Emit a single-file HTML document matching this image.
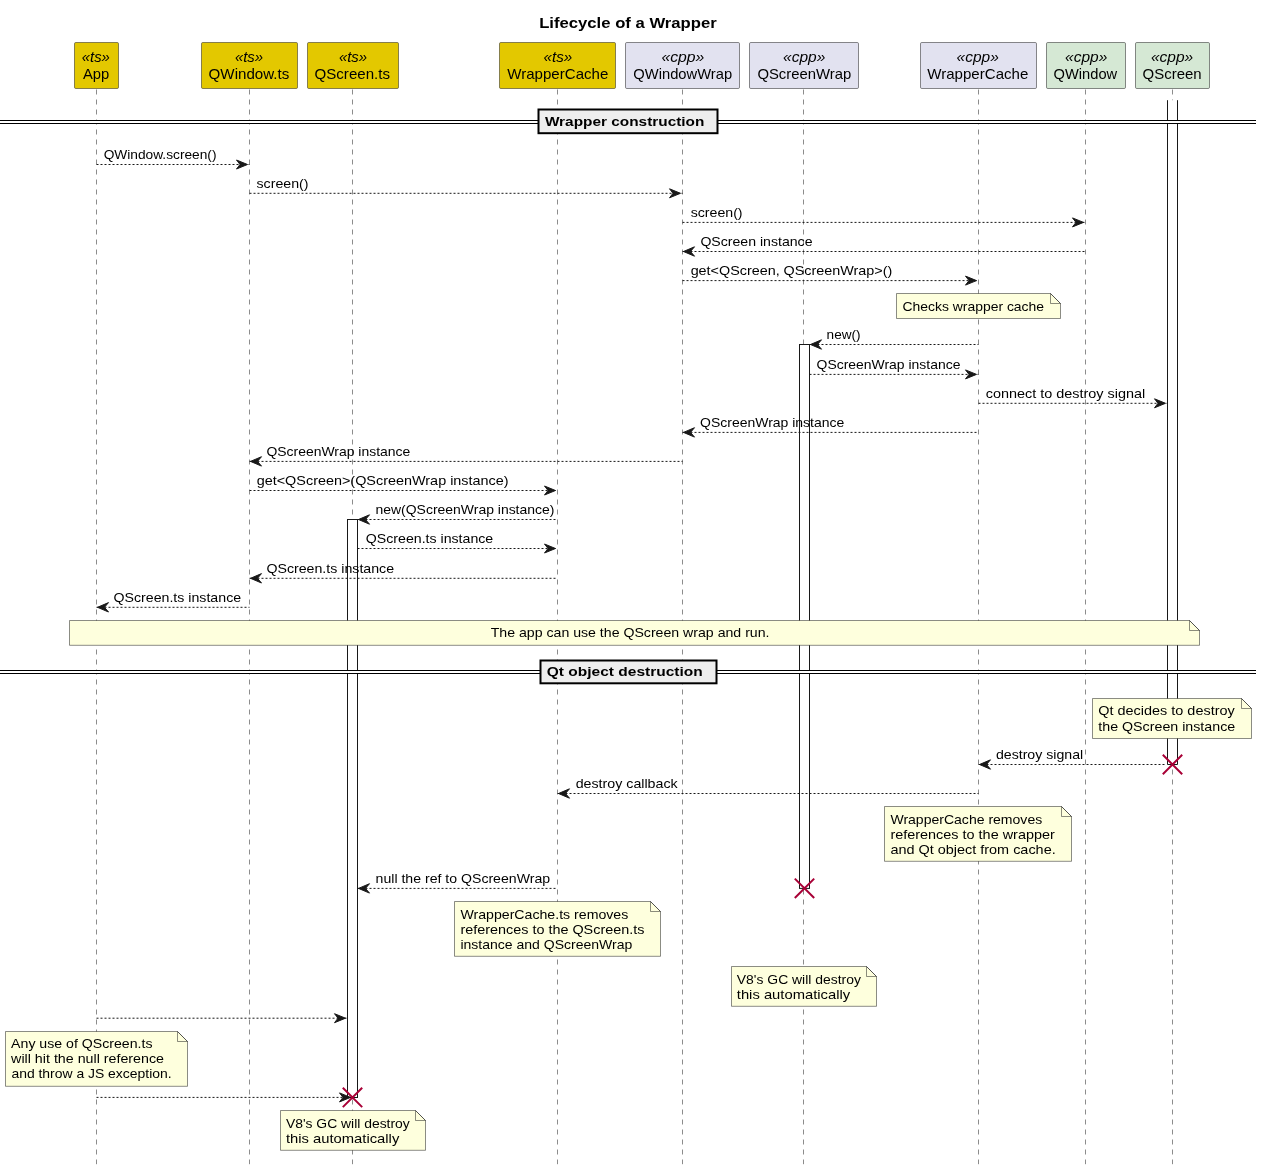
<!DOCTYPE html>
<html><head><meta charset="utf-8"><style>
html,body{margin:0;padding:0;background:#FFFFFF;width:1262px;height:1171px;overflow:hidden}
svg{display:block;will-change:transform}
text{font-family:"Liberation Sans", sans-serif}
</style></head><body>
<svg width="1262" height="1171" viewBox="0 0 1262 1171">
<text x="539.20" y="28.00" font-size="14.8" font-weight="bold" font-style="normal" fill="#000000" textLength="177.50" lengthAdjust="spacingAndGlyphs">Lifecycle of a Wrapper</text>
<line x1="96.5" y1="89.5" x2="96.5" y2="1164.2" stroke="#181818" stroke-width="0.5" stroke-dasharray="5,5"/>
<line x1="249.5" y1="89.5" x2="249.5" y2="1164.2" stroke="#181818" stroke-width="0.5" stroke-dasharray="5,5"/>
<line x1="352.5" y1="89.5" x2="352.5" y2="1164.2" stroke="#181818" stroke-width="0.5" stroke-dasharray="5,5"/>
<line x1="557.5" y1="89.5" x2="557.5" y2="1164.2" stroke="#181818" stroke-width="0.5" stroke-dasharray="5,5"/>
<line x1="682.5" y1="89.5" x2="682.5" y2="1164.2" stroke="#181818" stroke-width="0.5" stroke-dasharray="5,5"/>
<line x1="803.5" y1="89.5" x2="803.5" y2="1164.2" stroke="#181818" stroke-width="0.5" stroke-dasharray="5,5"/>
<line x1="978.5" y1="89.5" x2="978.5" y2="1164.2" stroke="#181818" stroke-width="0.5" stroke-dasharray="5,5"/>
<line x1="1085.5" y1="89.5" x2="1085.5" y2="1164.2" stroke="#181818" stroke-width="0.5" stroke-dasharray="5,5"/>
<line x1="1172.5" y1="89.5" x2="1172.5" y2="1164.2" stroke="#181818" stroke-width="0.5" stroke-dasharray="5,5"/>
<rect x="74.5" y="42.5" width="44.0" height="46.0" rx="1.3" ry="1.3" fill="#E3C800" stroke="#181818" stroke-width="0.5"/>
<text x="81.80" y="61.50" font-size="14.6" font-weight="normal" font-style="italic" fill="#000000" textLength="28.10" lengthAdjust="spacingAndGlyphs">«ts»</text>
<text x="83.00" y="78.60" font-size="14.6" font-weight="normal" font-style="normal" fill="#000000" textLength="26.30" lengthAdjust="spacingAndGlyphs">App</text>
<rect x="201.5" y="42.5" width="96.0" height="46.0" rx="1.3" ry="1.3" fill="#E3C800" stroke="#181818" stroke-width="0.5"/>
<text x="234.90" y="61.50" font-size="14.6" font-weight="normal" font-style="italic" fill="#000000" textLength="28.30" lengthAdjust="spacingAndGlyphs">«ts»</text>
<text x="208.60" y="78.60" font-size="14.6" font-weight="normal" font-style="normal" fill="#000000" textLength="80.70" lengthAdjust="spacingAndGlyphs">QWindow.ts</text>
<rect x="307.5" y="42.5" width="91.0" height="46.0" rx="1.3" ry="1.3" fill="#E3C800" stroke="#181818" stroke-width="0.5"/>
<text x="338.90" y="61.50" font-size="14.6" font-weight="normal" font-style="italic" fill="#000000" textLength="28.30" lengthAdjust="spacingAndGlyphs">«ts»</text>
<text x="314.50" y="78.60" font-size="14.6" font-weight="normal" font-style="normal" fill="#000000" textLength="75.50" lengthAdjust="spacingAndGlyphs">QScreen.ts</text>
<rect x="499.5" y="42.5" width="116.0" height="46.0" rx="1.3" ry="1.3" fill="#E3C800" stroke="#181818" stroke-width="0.5"/>
<text x="543.50" y="61.50" font-size="14.6" font-weight="normal" font-style="italic" fill="#000000" textLength="28.80" lengthAdjust="spacingAndGlyphs">«ts»</text>
<text x="507.30" y="78.60" font-size="14.6" font-weight="normal" font-style="normal" fill="#000000" textLength="101.00" lengthAdjust="spacingAndGlyphs">WrapperCache</text>
<rect x="625.5" y="42.5" width="114.0" height="46.0" rx="1.3" ry="1.3" fill="#E2E2F0" stroke="#181818" stroke-width="0.5"/>
<text x="661.40" y="61.50" font-size="14.6" font-weight="normal" font-style="italic" fill="#000000" textLength="42.99" lengthAdjust="spacingAndGlyphs">«cpp»</text>
<text x="633.30" y="78.60" font-size="14.6" font-weight="normal" font-style="normal" fill="#000000" textLength="98.79" lengthAdjust="spacingAndGlyphs">QWindowWrap</text>
<rect x="749.5" y="42.5" width="109.0" height="46.0" rx="1.3" ry="1.3" fill="#E2E2F0" stroke="#181818" stroke-width="0.5"/>
<text x="783.00" y="61.50" font-size="14.6" font-weight="normal" font-style="italic" fill="#000000" textLength="42.29" lengthAdjust="spacingAndGlyphs">«cpp»</text>
<text x="757.40" y="78.60" font-size="14.6" font-weight="normal" font-style="normal" fill="#000000" textLength="93.91" lengthAdjust="spacingAndGlyphs">QScreenWrap</text>
<rect x="920.5" y="42.5" width="116.0" height="46.0" rx="1.3" ry="1.3" fill="#E2E2F0" stroke="#181818" stroke-width="0.5"/>
<text x="956.60" y="61.50" font-size="14.6" font-weight="normal" font-style="italic" fill="#000000" textLength="42.29" lengthAdjust="spacingAndGlyphs">«cpp»</text>
<text x="927.30" y="78.60" font-size="14.6" font-weight="normal" font-style="normal" fill="#000000" textLength="101.00" lengthAdjust="spacingAndGlyphs">WrapperCache</text>
<rect x="1046.5" y="42.5" width="79.0" height="46.0" rx="1.3" ry="1.3" fill="#D5E8D4" stroke="#181818" stroke-width="0.5"/>
<text x="1065.00" y="61.50" font-size="14.6" font-weight="normal" font-style="italic" fill="#000000" textLength="42.29" lengthAdjust="spacingAndGlyphs">«cpp»</text>
<text x="1053.60" y="78.60" font-size="14.6" font-weight="normal" font-style="normal" fill="#000000" textLength="63.56" lengthAdjust="spacingAndGlyphs">QWindow</text>
<rect x="1135.5" y="42.5" width="74.0" height="46.0" rx="1.3" ry="1.3" fill="#D5E8D4" stroke="#181818" stroke-width="0.5"/>
<text x="1150.90" y="61.50" font-size="14.6" font-weight="normal" font-style="italic" fill="#000000" textLength="42.29" lengthAdjust="spacingAndGlyphs">«cpp»</text>
<text x="1142.60" y="78.60" font-size="14.6" font-weight="normal" font-style="normal" fill="#000000" textLength="59.00" lengthAdjust="spacingAndGlyphs">QScreen</text>
<rect x="347.5" y="519.5" width="10" height="578.0" fill="#FFFFFF" stroke="#181818" stroke-width="1"/>
<rect x="799.5" y="344.5" width="10" height="543.9" fill="#FFFFFF" stroke="#181818" stroke-width="1"/>
<rect x="1167.5" y="100.2" width="10" height="664.3" fill="#FFFFFF"/>
<path d="M1167.5,100.2 L1167.5,764.5 L1177.5,764.5 L1177.5,100.2" fill="none" stroke="#181818" stroke-width="1"/>
<rect x="0" y="120.5" width="1256" height="3" fill="#FFFFFF"/>
<line x1="0" y1="120.5" x2="1256" y2="120.5" stroke="#000000" stroke-width="1"/>
<line x1="0" y1="123.5" x2="1256" y2="123.5" stroke="#000000" stroke-width="1"/>
<rect x="538.5" y="109.5" width="179" height="23.7" fill="#EEEEEE" stroke="#000000" stroke-width="2"/>
<text x="544.90" y="126.00" font-size="13.6" font-weight="bold" font-style="normal" fill="#000000" textLength="159.49" lengthAdjust="spacingAndGlyphs">Wrapper construction</text>
<rect x="0" y="670.5" width="1256" height="3" fill="#FFFFFF"/>
<line x1="0" y1="670.5" x2="1256" y2="670.5" stroke="#000000" stroke-width="1"/>
<line x1="0" y1="673.5" x2="1256" y2="673.5" stroke="#000000" stroke-width="1"/>
<rect x="540.5" y="660.5" width="176" height="22.8" fill="#EEEEEE" stroke="#000000" stroke-width="2"/>
<text x="546.80" y="676.00" font-size="13.6" font-weight="bold" font-style="normal" fill="#000000" textLength="155.90" lengthAdjust="spacingAndGlyphs">Qt object destruction</text>
<line x1="96.5" y1="164.5" x2="249.5" y2="164.5" stroke="#181818" stroke-width="1" stroke-dasharray="2,2"/>
<polygon points="236.5,160.0 247.5,164.5 236.5,169.0 240.0,164.5" fill="#181818" stroke="#181818" stroke-width="1"/>
<text x="103.65" y="158.70" font-size="13.0" font-weight="normal" font-style="normal" fill="#000000" textLength="112.85" lengthAdjust="spacingAndGlyphs">QWindow.screen()</text>
<line x1="249.5" y1="193.3" x2="682.5" y2="193.3" stroke="#181818" stroke-width="1" stroke-dasharray="2,2"/>
<polygon points="669.5,188.8 680.5,193.3 669.5,197.8 673.0,193.3" fill="#181818" stroke="#181818" stroke-width="1"/>
<text x="256.50" y="187.50" font-size="13.0" font-weight="normal" font-style="normal" fill="#000000" textLength="51.99" lengthAdjust="spacingAndGlyphs">screen()</text>
<line x1="682.5" y1="222.4" x2="1085.5" y2="222.4" stroke="#181818" stroke-width="1" stroke-dasharray="2,2"/>
<polygon points="1072.5,217.9 1083.5,222.4 1072.5,226.9 1076.0,222.4" fill="#181818" stroke="#181818" stroke-width="1"/>
<text x="690.65" y="216.60" font-size="13.0" font-weight="normal" font-style="normal" fill="#000000" textLength="51.94" lengthAdjust="spacingAndGlyphs">screen()</text>
<line x1="682.5" y1="251.5" x2="1085.5" y2="251.5" stroke="#181818" stroke-width="1" stroke-dasharray="2,2"/>
<polygon points="694.5,246.8 683.5,251.5 694.5,256.2 690.5,251.5" fill="#181818" stroke="#181818" stroke-width="1"/>
<text x="700.40" y="245.70" font-size="13.0" font-weight="normal" font-style="normal" fill="#000000" textLength="112.10" lengthAdjust="spacingAndGlyphs">QScreen instance</text>
<line x1="682.5" y1="280.6" x2="978.5" y2="280.6" stroke="#181818" stroke-width="1" stroke-dasharray="2,2"/>
<polygon points="965.5,276.1 976.5,280.6 965.5,285.1 969.0,280.6" fill="#181818" stroke="#181818" stroke-width="1"/>
<text x="690.65" y="274.80" font-size="13.0" font-weight="normal" font-style="normal" fill="#000000" textLength="201.64" lengthAdjust="spacingAndGlyphs">get&lt;QScreen, QScreenWrap&gt;()</text>
<line x1="809.5" y1="344.5" x2="978.5" y2="344.5" stroke="#181818" stroke-width="1" stroke-dasharray="2,2"/>
<polygon points="821.5,339.8 810.5,344.5 821.5,349.2 817.5,344.5" fill="#181818" stroke="#181818" stroke-width="1"/>
<text x="826.60" y="338.70" font-size="13.0" font-weight="normal" font-style="normal" fill="#000000" textLength="33.99" lengthAdjust="spacingAndGlyphs">new()</text>
<line x1="809.5" y1="374.4" x2="978.5" y2="374.4" stroke="#181818" stroke-width="1" stroke-dasharray="2,2"/>
<polygon points="965.5,369.9 976.5,374.4 965.5,378.9 969.0,374.4" fill="#181818" stroke="#181818" stroke-width="1"/>
<text x="816.60" y="368.60" font-size="13.0" font-weight="normal" font-style="normal" fill="#000000" textLength="143.80" lengthAdjust="spacingAndGlyphs">QScreenWrap instance</text>
<line x1="978.5" y1="403.3" x2="1167.5" y2="403.3" stroke="#181818" stroke-width="1" stroke-dasharray="2,2"/>
<polygon points="1154.5,398.8 1165.5,403.3 1154.5,407.8 1158.0,403.3" fill="#181818" stroke="#181818" stroke-width="1"/>
<text x="985.70" y="397.50" font-size="13.0" font-weight="normal" font-style="normal" fill="#000000" textLength="159.50" lengthAdjust="spacingAndGlyphs">connect to destroy signal</text>
<line x1="682.5" y1="432.4" x2="978.5" y2="432.4" stroke="#181818" stroke-width="1" stroke-dasharray="2,2"/>
<polygon points="694.5,427.7 683.5,432.4 694.5,437.09999999999997 690.5,432.4" fill="#181818" stroke="#181818" stroke-width="1"/>
<text x="700.10" y="426.60" font-size="13.0" font-weight="normal" font-style="normal" fill="#000000" textLength="144.20" lengthAdjust="spacingAndGlyphs">QScreenWrap instance</text>
<line x1="249.5" y1="461.4" x2="682.5" y2="461.4" stroke="#181818" stroke-width="1" stroke-dasharray="2,2"/>
<polygon points="261.5,456.7 250.5,461.4 261.5,466.09999999999997 257.5,461.4" fill="#181818" stroke="#181818" stroke-width="1"/>
<text x="266.40" y="455.60" font-size="13.0" font-weight="normal" font-style="normal" fill="#000000" textLength="143.90" lengthAdjust="spacingAndGlyphs">QScreenWrap instance</text>
<line x1="249.5" y1="490.5" x2="557.5" y2="490.5" stroke="#181818" stroke-width="1" stroke-dasharray="2,2"/>
<polygon points="544.5,486.0 555.5,490.5 544.5,495.0 548.0,490.5" fill="#181818" stroke="#181818" stroke-width="1"/>
<text x="256.70" y="484.70" font-size="13.0" font-weight="normal" font-style="normal" fill="#000000" textLength="251.90" lengthAdjust="spacingAndGlyphs">get&lt;QScreen&gt;(QScreenWrap instance)</text>
<line x1="357.5" y1="519.5" x2="557.5" y2="519.5" stroke="#181818" stroke-width="1" stroke-dasharray="2,2"/>
<polygon points="369.5,514.8 358.5,519.5 369.5,524.2 365.5,519.5" fill="#181818" stroke="#181818" stroke-width="1"/>
<text x="375.50" y="513.70" font-size="13.0" font-weight="normal" font-style="normal" fill="#000000" textLength="178.91" lengthAdjust="spacingAndGlyphs">new(QScreenWrap instance)</text>
<line x1="357.5" y1="548.5" x2="557.5" y2="548.5" stroke="#181818" stroke-width="1" stroke-dasharray="2,2"/>
<polygon points="544.5,544.0 555.5,548.5 544.5,553.0 548.0,548.5" fill="#181818" stroke="#181818" stroke-width="1"/>
<text x="365.80" y="542.70" font-size="13.0" font-weight="normal" font-style="normal" fill="#000000" textLength="127.41" lengthAdjust="spacingAndGlyphs">QScreen.ts instance</text>
<line x1="249.5" y1="578.3" x2="557.5" y2="578.3" stroke="#181818" stroke-width="1" stroke-dasharray="2,2"/>
<polygon points="261.5,573.5999999999999 250.5,578.3 261.5,583.0 257.5,578.3" fill="#181818" stroke="#181818" stroke-width="1"/>
<text x="266.40" y="572.50" font-size="13.0" font-weight="normal" font-style="normal" fill="#000000" textLength="127.71" lengthAdjust="spacingAndGlyphs">QScreen.ts instance</text>
<line x1="96.5" y1="607.3" x2="249.5" y2="607.3" stroke="#181818" stroke-width="1" stroke-dasharray="2,2"/>
<polygon points="108.5,602.5999999999999 97.5,607.3 108.5,612.0 104.5,607.3" fill="#181818" stroke="#181818" stroke-width="1"/>
<text x="113.50" y="601.50" font-size="13.0" font-weight="normal" font-style="normal" fill="#000000" textLength="127.61" lengthAdjust="spacingAndGlyphs">QScreen.ts instance</text>
<line x1="978.5" y1="764.5" x2="1166.0" y2="764.5" stroke="#181818" stroke-width="1" stroke-dasharray="2,2"/>
<polygon points="990.5,759.8 979.5,764.5 990.5,769.2 986.5,764.5" fill="#181818" stroke="#181818" stroke-width="1"/>
<text x="995.90" y="758.70" font-size="13.0" font-weight="normal" font-style="normal" fill="#000000" textLength="87.30" lengthAdjust="spacingAndGlyphs">destroy signal</text>
<line x1="557.5" y1="793.5" x2="978.5" y2="793.5" stroke="#181818" stroke-width="1" stroke-dasharray="2,2"/>
<polygon points="569.5,788.8 558.5,793.5 569.5,798.2 565.5,793.5" fill="#181818" stroke="#181818" stroke-width="1"/>
<text x="575.70" y="787.70" font-size="13.0" font-weight="normal" font-style="normal" fill="#000000" textLength="101.97" lengthAdjust="spacingAndGlyphs">destroy callback</text>
<line x1="357.5" y1="888.4" x2="557.5" y2="888.4" stroke="#181818" stroke-width="1" stroke-dasharray="2,2"/>
<polygon points="369.5,883.6999999999999 358.5,888.4 369.5,893.1 365.5,888.4" fill="#181818" stroke="#181818" stroke-width="1"/>
<text x="375.60" y="882.60" font-size="13.0" font-weight="normal" font-style="normal" fill="#000000" textLength="174.49" lengthAdjust="spacingAndGlyphs">null the ref to QScreenWrap</text>
<line x1="96.5" y1="1018.2" x2="347.5" y2="1018.2" stroke="#181818" stroke-width="1" stroke-dasharray="2,2"/>
<polygon points="334.5,1013.7 345.5,1018.2 334.5,1022.7 338.0,1018.2" fill="#181818" stroke="#181818" stroke-width="1"/>
<line x1="96.5" y1="1097.4" x2="352.5" y2="1097.4" stroke="#181818" stroke-width="1" stroke-dasharray="2,2"/>
<polygon points="339.5,1092.9 350.5,1097.4 339.5,1101.9 343.0,1097.4" fill="#181818" stroke="#181818" stroke-width="1"/>
<path d="M896.5,293.5 L1050.5,293.5 L1060.5,303.5 L1060.5,318.5 L896.5,318.5 Z" fill="#FEFFDD" stroke="#181818" stroke-width="0.5"/>
<path d="M1050.5,293.5 L1050.5,303.5 L1060.5,303.5 L1050.5,293.5" fill="none" stroke="#181818" stroke-width="0.5"/>
<text x="902.50" y="311.20" font-size="13.0" font-weight="normal" font-style="normal" fill="#000000" textLength="141.51" lengthAdjust="spacingAndGlyphs">Checks wrapper cache</text>
<path d="M69.5,620.5 L1189.5,620.5 L1199.5,630.5 L1199.5,645.3 L69.5,645.3 Z" fill="#FEFFDD" stroke="#181818" stroke-width="0.5"/>
<path d="M1189.5,620.5 L1189.5,630.5 L1199.5,630.5 L1189.5,620.5" fill="none" stroke="#181818" stroke-width="0.5"/>
<text x="490.70" y="636.90" font-size="13.0" font-weight="normal" font-style="normal" fill="#000000" textLength="278.81" lengthAdjust="spacingAndGlyphs">The app can use the QScreen wrap and run.</text>
<path d="M1092.5,698.5 L1241.5,698.5 L1251.5,708.5 L1251.5,738.5 L1092.5,738.5 Z" fill="#FEFFDD" stroke="#181818" stroke-width="0.5"/>
<path d="M1241.5,698.5 L1241.5,708.5 L1251.5,708.5 L1241.5,698.5" fill="none" stroke="#181818" stroke-width="0.5"/>
<text x="1098.30" y="715.10" font-size="13.0" font-weight="normal" font-style="normal" fill="#000000" textLength="136.40" lengthAdjust="spacingAndGlyphs">Qt decides to destroy</text>
<text x="1098.30" y="730.70" font-size="13.0" font-weight="normal" font-style="normal" fill="#000000" textLength="136.90" lengthAdjust="spacingAndGlyphs">the QScreen instance</text>
<path d="M884.5,806.5 L1061.5,806.5 L1071.5,816.5 L1071.5,861.3 L884.5,861.3 Z" fill="#FEFFDD" stroke="#181818" stroke-width="0.5"/>
<path d="M1061.5,806.5 L1061.5,816.5 L1071.5,816.5 L1061.5,806.5" fill="none" stroke="#181818" stroke-width="0.5"/>
<text x="890.40" y="823.80" font-size="13.0" font-weight="normal" font-style="normal" fill="#000000" textLength="151.81" lengthAdjust="spacingAndGlyphs">WrapperCache removes</text>
<text x="890.40" y="838.80" font-size="13.0" font-weight="normal" font-style="normal" fill="#000000" textLength="164.40" lengthAdjust="spacingAndGlyphs">references to the wrapper</text>
<text x="890.40" y="853.80" font-size="13.0" font-weight="normal" font-style="normal" fill="#000000" textLength="165.30" lengthAdjust="spacingAndGlyphs">and Qt object from cache.</text>
<path d="M454.5,901.5 L650.5,901.5 L660.5,911.5 L660.5,956.3 L454.5,956.3 Z" fill="#FEFFDD" stroke="#181818" stroke-width="0.5"/>
<path d="M650.5,901.5 L650.5,911.5 L660.5,911.5 L650.5,901.5" fill="none" stroke="#181818" stroke-width="0.5"/>
<text x="460.40" y="918.70" font-size="13.0" font-weight="normal" font-style="normal" fill="#000000" textLength="167.90" lengthAdjust="spacingAndGlyphs">WrapperCache.ts removes</text>
<text x="460.40" y="934.00" font-size="13.0" font-weight="normal" font-style="normal" fill="#000000" textLength="184.00" lengthAdjust="spacingAndGlyphs">references to the QScreen.ts</text>
<text x="460.40" y="949.10" font-size="13.0" font-weight="normal" font-style="normal" fill="#000000" textLength="171.90" lengthAdjust="spacingAndGlyphs">instance and QScreenWrap</text>
<path d="M731.5,966.5 L866.5,966.5 L876.5,976.5 L876.5,1006.3 L731.5,1006.3 Z" fill="#FEFFDD" stroke="#181818" stroke-width="0.5"/>
<path d="M866.5,966.5 L866.5,976.5 L876.5,976.5 L866.5,966.5" fill="none" stroke="#181818" stroke-width="0.5"/>
<text x="736.80" y="983.80" font-size="13.0" font-weight="normal" font-style="normal" fill="#000000" textLength="124.09" lengthAdjust="spacingAndGlyphs">V8&#39;s GC will destroy</text>
<text x="736.80" y="998.50" font-size="13.0" font-weight="normal" font-style="normal" fill="#000000" textLength="113.30" lengthAdjust="spacingAndGlyphs">this automatically</text>
<path d="M5.5,1031.5 L177.5,1031.5 L187.5,1041.5 L187.5,1086.3 L5.5,1086.3 Z" fill="#FEFFDD" stroke="#181818" stroke-width="0.5"/>
<path d="M177.5,1031.5 L177.5,1041.5 L187.5,1041.5 L177.5,1031.5" fill="none" stroke="#181818" stroke-width="0.5"/>
<text x="11.10" y="1047.70" font-size="13.0" font-weight="normal" font-style="normal" fill="#000000" textLength="141.40" lengthAdjust="spacingAndGlyphs">Any use of QScreen.ts</text>
<text x="11.13" y="1062.70" font-size="13.0" font-weight="normal" font-style="normal" fill="#000000" textLength="152.87" lengthAdjust="spacingAndGlyphs">will hit the null reference</text>
<text x="11.40" y="1077.80" font-size="13.0" font-weight="normal" font-style="normal" fill="#000000" textLength="160.20" lengthAdjust="spacingAndGlyphs">and throw a JS exception.</text>
<path d="M280.5,1110.5 L415.5,1110.5 L425.5,1120.5 L425.5,1150.3 L280.5,1150.3 Z" fill="#FEFFDD" stroke="#181818" stroke-width="0.5"/>
<path d="M415.5,1110.5 L415.5,1120.5 L425.5,1120.5 L415.5,1110.5" fill="none" stroke="#181818" stroke-width="0.5"/>
<text x="285.90" y="1127.80" font-size="13.0" font-weight="normal" font-style="normal" fill="#000000" textLength="123.89" lengthAdjust="spacingAndGlyphs">V8&#39;s GC will destroy</text>
<text x="285.90" y="1142.60" font-size="13.0" font-weight="normal" font-style="normal" fill="#000000" textLength="113.40" lengthAdjust="spacingAndGlyphs">this automatically</text>
<path d="M1162.8,754.8 L1182.2,774.2 M1182.2,754.8 L1162.8,774.2" stroke="#A80036" stroke-width="2" fill="none"/>
<path d="M794.8,878.5999999999999 L814.2,898.0 M814.2,878.5999999999999 L794.8,898.0" stroke="#A80036" stroke-width="2" fill="none"/>
<path d="M342.8,1087.7 L362.2,1107.1000000000001 M362.2,1087.7 L342.8,1107.1000000000001" stroke="#A80036" stroke-width="2" fill="none"/>
</svg>
</body></html>
